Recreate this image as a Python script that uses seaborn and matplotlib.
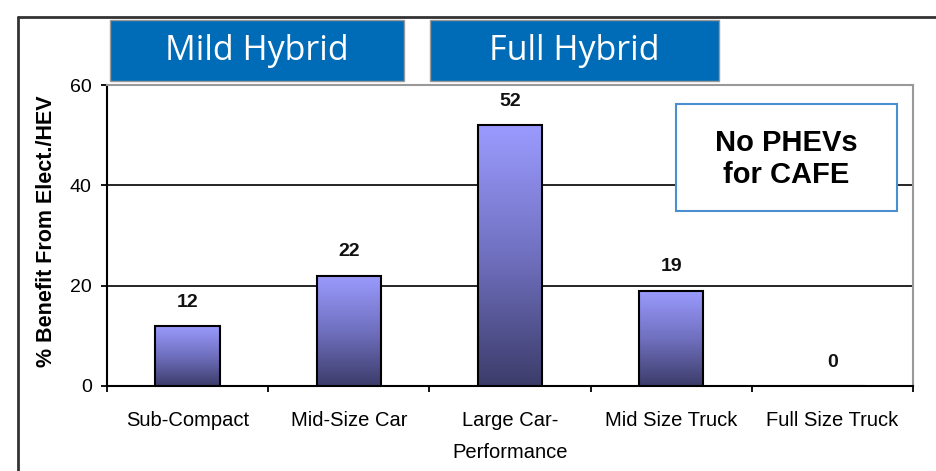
import numpy as np
import seaborn as sns
import matplotlib.pyplot as plt
from matplotlib.colors import LinearSegmentedColormap
from matplotlib.patches import Rectangle
from matplotlib.lines import Line2D

# data
categories = ["Sub-Compact", "Mid-Size Car", "Large Car-\nPerformance",
              "Mid Size Truck", "Full Size Truck"]
benefit = [12, 22, 52, 19, 0]
y_ticks = [0, 20, 40, 60]
y_label = "% Benefit From Elect./HEV"
group_labels = ["Mild Hybrid", "Full Hybrid"]
note_text = "No PHEVs\nfor CAFE"

sns.set_theme(style="white")
plt.rcParams['font.family'] = ['Liberation Sans', 'DejaVu Sans']
plt.rcParams.update({"text.color": "black", "axes.labelcolor": "black",
                     "xtick.color": "black", "ytick.color": "black"})

W, H = 937, 471
fig = plt.figure(figsize=(W / 100, H / 100), dpi=100)
fig.patch.set_facecolor("white")


def fx(x):
    return x / W


def fy(y):
    return 1 - y / H


# plot area in pixel coords of the reference
ax = fig.add_axes([fx(107), fy(386), fx(913) - fx(107), fy(85) - fy(386)])

sns.barplot(x=categories, y=benefit, ax=ax, width=0.4, color="#9999ff",
            edgecolor="black", linewidth=1.5, zorder=3)

# vertical gradient inside each bar
grad_cmap = LinearSegmentedColormap.from_list("bar", ["#3c3c6a", "#7070c0", "#9b9bff"])
gradient = np.linspace(0, 1, 256).reshape(-1, 1)
for p in ax.patches:
    x0, y0 = p.get_x(), p.get_y()
    w, h = p.get_width(), p.get_height()
    if h <= 0:
        continue
    im = ax.imshow(gradient, extent=[x0, x0 + w, y0, y0 + h], origin="lower",
                   aspect="auto", cmap=grad_cmap, zorder=3.5)
    im.set_clip_path(p)
    p.set_facecolor("none")
    p.set_zorder(4)

ax.set_xlim(-0.5, len(categories) - 0.5)
ax.set_ylim(0, 60)
ax.set_yticks(y_ticks)

for c in ax.containers:
    ax.bar_label(c, padding=11, fontsize=14, fontweight="bold", color="#111111")

ax.yaxis.grid(True, color="black", linewidth=1.2)
ax.set_axisbelow(True)

for side in ["left", "bottom"]:
    ax.spines[side].set_color("black")
    ax.spines[side].set_linewidth(1.5)
for side in ["top", "right"]:
    ax.spines[side].set_color("#999999")
    ax.spines[side].set_linewidth(1.5)

ax.tick_params(axis="y", direction="out", length=4, width=1.3, color="black",
               labelsize=14, pad=7, left=True)
ax.set_xticks(np.arange(-0.5, len(categories)), minor=True)
ax.tick_params(axis="x", which="minor", direction="out", length=4.5, width=1.3,
               color="black", bottom=True)
ax.tick_params(axis="x", which="major", length=0, labelsize=14.5, pad=18)
for lab in ax.get_xticklabels():
    lab.set_linespacing(1.85)

ax.set_xlabel("")
ax.set_ylabel(y_label, fontsize=15.5, fontweight="bold")
ax.yaxis.set_label_coords(-0.062, 0.515)

# outer frame of the slide graphic
fig.add_artist(Line2D([fx(18), fx(18)], [fy(17), 0], color="#333333", lw=2))
fig.add_artist(Line2D([fx(18), 1], [fy(17), fy(17)], color="#333333", lw=2))

# blue group header boxes
boxes = [(110, 404), (430, 719)]
for (x0, x1), lab in zip(boxes, group_labels):
    fig.add_artist(Rectangle((fx(x0), fy(81)), fx(x1) - fx(x0), fy(20) - fy(81),
                             transform=fig.transFigure, facecolor="#006bb6",
                             edgecolor="#9a9a9a", lw=1))
    fig.text(fx((x0 + x1) / 2), fy(51), lab, color="white", fontsize=24.5,
             ha="center", va="center", family=["Open Sans", "DejaVu Sans"])

# note box
fig.add_artist(Rectangle((fx(676), fy(211)), fx(897) - fx(676), fy(104) - fy(211),
                         transform=fig.transFigure, facecolor="white",
                         edgecolor="#4a8fcf", lw=1.5, zorder=5))
fig.text(fx(786), fy(159), note_text, fontsize=21, fontweight="bold",
         ha="center", va="center", linespacing=1.2, zorder=6, color="black")

fig.savefig("out.png", dpi=100)
